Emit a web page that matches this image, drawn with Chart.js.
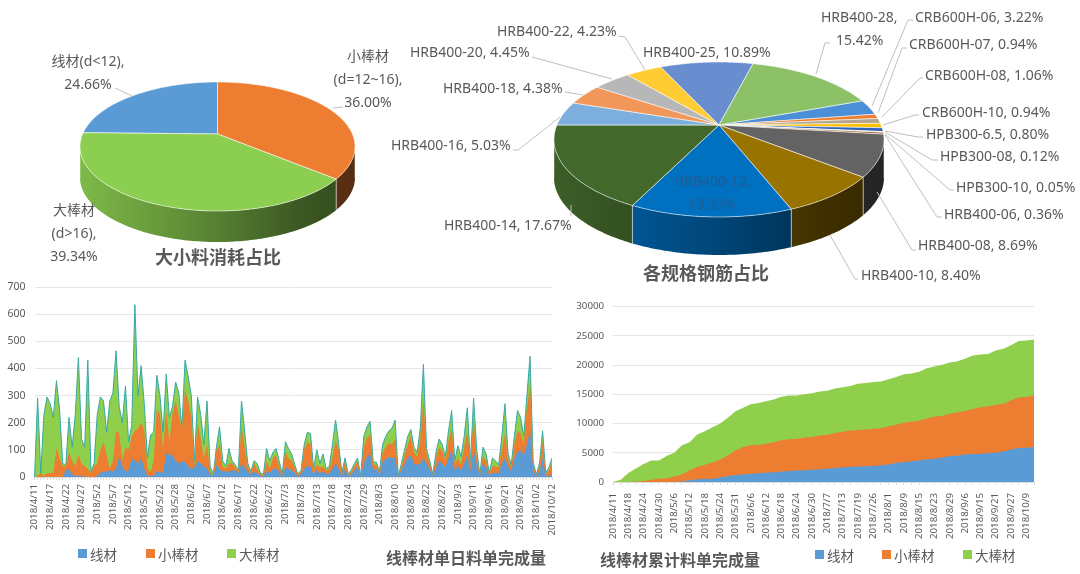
<!DOCTYPE html>
<html>
<head>
<meta charset="utf-8">
<script src="https://cdn.jsdelivr.net/npm/chart.js@4/dist/chart.umd.min.js"></script>
<style>
	body { margin: 0; width: 1080px; height: 574px; overflow: hidden; background: #fff; position: relative; font-family: "Noto Sans CJK SC", "Noto Sans", sans-serif; }
	canvas { position: absolute; filter: blur(0.35px); }
	.title { position: absolute; font-size: 16px; font-weight: 700; color: #595959; white-space: nowrap; line-height: 20px; filter: blur(0.35px); }
	.legend { position: absolute; font-size: 13.5px; color: #595959; white-space: nowrap; line-height: 18px; filter: blur(0.35px); }
	.legend i { position: absolute; width: 9px; height: 9px; top: 4px; }
</style>
</head>
<body>
<canvas id="sizePie" width="1080" height="290" style="left:0;top:0"></canvas>
<canvas id="specPie" width="1080" height="290" style="left:0;top:0"></canvas>
<canvas id="dailyArea" width="560" height="294" style="left:0;top:280px"></canvas>
<canvas id="cumArea" width="520" height="284" style="left:560px;top:290px"></canvas>
<script>
// 大小料
const sizeNames = ['线材', '小棒材', '大棒材'];
const sizeRanges = ['(d<12)', '(d=12~16)', '(d>16)'];
const sizeShares = [24.66, 36.00, 39.34];

// 各规格
const specNames = ['CRB600H-06', 'CRB600H-07', 'CRB600H-08', 'CRB600H-10', 'HPB300-6.5', 'HPB300-08', 'HPB300-10',
	'HRB400-06', 'HRB400-08', 'HRB400-10', 'HRB400-12', 'HRB400-14', 'HRB400-16', 'HRB400-18', 'HRB400-20',
	'HRB400-22', 'HRB400-25', 'HRB400-28'];
const specShares = [3.22, 0.94, 1.06, 0.94, 0.80, 0.12, 0.05, 0.36, 8.69, 8.40, 13.33, 17.67, 5.03, 4.38, 4.45, 4.23, 10.89, 15.42];

// 单日料单, one label every 5 points
const dailyTicks = ['2018/4/11', '2018/4/17', '2018/4/22', '2018/4/27', '2018/5/2', '2018/5/7', '2018/5/12', '2018/5/17',
	'2018/5/22', '2018/5/28', '2018/6/2', '2018/6/7', '2018/6/12', '2018/6/17', '2018/6/22', '2018/6/27', '2018/7/3',
	'2018/7/8', '2018/7/13', '2018/7/18', '2018/7/24', '2018/7/29', '2018/8/3', '2018/8/10', '2018/8/15', '2018/8/22',
	'2018/8/27', '2018/9/3', '2018/9/11', '2018/9/16', '2018/9/21', '2018/9/26', '2018/10/2', '2018/10/12'];
const dailyWire = [0,0,0,0,0,0,0,0,0,0,
	25,30,10,5,5,3,3,0,0,0,
	5,15,20,20,25,20,30,75,40,20,
	25,70,60,50,70,30,5,5,5,20,
	20,15,90,80,80,60,50,60,55,40,
	30,35,60,50,40,30,10,5,45,30,
	20,20,20,25,25,15,50,35,20,10,
	20,15,5,3,20,15,30,30,20,
	3,35,30,25,15,3,10,30,40,40,
	10,25,15,20,10,15,30,50,30,5,
	30,5,10,25,40,3,50,75,85,25,
	30,8,55,65,75,70,70,1,25,50,
	70,80,50,45,50,70,50,30,5,35,
	60,50,35,70,100,25,40,25,50,80,
	20,100,45,4,50,35,6,15,15,15,
	50,70,40,20,70,90,100,80,120,170,
	25,4,20,70,5,5,10];
const dailySmall = [0,5,15,5,15,15,15,105,70,40,
	15,60,50,35,75,47,37,30,15,40,
	45,85,110,60,5,40,140,85,20,90,
	75,80,110,130,130,140,25,15,55,230,
	210,85,150,50,150,220,180,110,265,240,
	190,5,140,90,30,90,10,0,55,90,
	20,10,30,25,10,5,140,75,20,5,
	30,15,5,2,40,15,40,50,20,
	3,60,40,35,20,4,10,70,90,80,
	15,20,20,20,15,15,40,85,70,5,
	25,4,10,15,20,1,60,70,70,20,
	15,7,35,45,50,50,70,1,15,30,
	50,70,40,30,90,220,35,20,3,35,
	50,45,25,60,80,25,30,20,60,90,
	25,110,30,3,25,25,5,25,25,20,
	50,90,25,15,50,80,60,40,130,170,
	20,3,20,60,6,20,40];
const dailyLarge = [0,285,0,225,280,255,205,250,180,10,
	5,130,50,190,360,90,70,400,5,10,
	180,195,150,85,250,250,295,100,140,225,
	30,40,465,120,210,100,40,135,105,125,
	70,65,140,90,30,70,80,10,110,90,
	80,20,95,90,50,160,20,5,10,65,
	20,10,55,10,10,5,90,60,10,5,
	10,20,5,5,45,30,20,25,20,
	4,35,35,25,10,3,5,20,35,40,
	5,55,15,45,5,10,50,75,20,5,
	15,3,5,10,10,1,40,40,50,10,
	10,5,30,40,45,60,70,1,10,20,
	30,25,20,15,40,125,20,10,2,20,
	30,25,15,40,65,10,45,30,40,85,
	10,80,25,3,35,25,4,30,20,10,
	50,110,20,10,30,75,60,30,50,105,
	10,3,10,40,4,10,20];

// 累计料单, read at every label and half way between labels
const cumTicks = ['2018/4/11', '2018/4/18', '2018/4/24', '2018/4/30', '2018/5/6', '2018/5/12', '2018/5/18', '2018/5/24',
	'2018/5/31', '2018/6/6', '2018/6/12', '2018/6/18', '2018/6/24', '2018/6/30', '2018/7/7', '2018/7/13', '2018/7/19',
	'2018/7/26', '2018/8/1', '2018/8/9', '2018/8/15', '2018/8/23', '2018/8/29', '2018/9/6', '2018/9/15', '2018/9/21',
	'2018/9/27', '2018/10/9'];
const cumWire = [0,0,0,0,0,0,0,0,0,100,300,450,500,570,750,1000,1200,1300,1400,1500,1600,1650,1800,1900,1950,2000,2100,2200,
	2250,2400,2500,2600,2650,2700,2750,2850,3000,3300,3400,3550,3700,3900,4000,4200,4450,4500,4700,4800,4850,4900,5000,5200,5550,5800,5850,6000];
const cumSmall = [0,0,0,50,170,400,570,650,950,1200,1700,2100,2450,2780,3050,3550,4200,4700,4900,4850,4950,5150,5350,5400,5400,5600,5600,5750,
	5850,6000,6100,6200,6250,6300,6350,6350,6550,6500,6750,6750,6800,6950,7150,7150,7250,7450,7450,7700,7950,8000,8200,8200,8400,8650,8700,8850];
const cumLarge = [0,400,1550,2250,2930,3300,3130,3800,4050,5000,4800,5600,5750,6000,6200,6450,6700,6700,7000,7150,7250,7300,7450,7500,7450,7400,7500,7550,
	7500,7600,7600,7650,7900,7950,8000,8000,8050,8150,8300,8250,8350,8600,8600,8700,8750,8700,8950,9150,9000,9000,9300,9400,9450,9700,9650,9550];

const seriesNames = ['线材', '小棒材', '大棒材'];

// colours
const sizeColors = ['#5b9bd5', '#ed7d31', '#8ccf50'];
const specColors = ['#4a8fd8', '#ed7d31', '#b5a58f', '#ffc000', '#2f62b8', '#70ad47', '#255e91', '#9e480e', '#636363',
	'#997300', '#0070c0', '#43682b', '#7cafdd', '#f1975a', '#b7b7b7', '#ffcd33', '#698ed0', '#8cc168'];
const textColor = '#595959';
const leaderColor = '#bfbfbf';

const pct = v => v.toFixed(2) + '%';

// label layout on the page: x, y of the first line, align, leader points
const sizeLayout = [
	{ x: 88, y: 62, align: 'center', step: 23, lines: [`${sizeNames[0]}${sizeRanges[0]},`, pct(sizeShares[0])], leader: [[115, 88], [132, 96]] },
	{ x: 368, y: 57, align: 'center', step: 23, lines: [sizeNames[1], `${sizeRanges[1]},`, pct(sizeShares[1])], leader: [[343, 107], [333, 108]] },
	{ x: 74, y: 211, align: 'center', step: 23, lines: [sizeNames[2], `${sizeRanges[2]},`, pct(sizeShares[2])] }
];
const specLine = i => `${specNames[i]}, ${pct(specShares[i])}`;
const specLayout = [
	{ x: 915, y: 18, lines: [specLine(0)], leader: [[913, 20], [908, 20], [872, 106]] },
	{ x: 909, y: 45, lines: [specLine(1)], leader: [[907, 48], [902, 48], [878, 113]] },
	{ x: 925, y: 76, lines: [specLine(2)], leader: [[923, 78], [920, 78], [882, 117]] },
	{ x: 922, y: 113, lines: [specLine(3)], leader: [[919, 115], [915, 115], [883, 125]] },
	{ x: 926, y: 135, lines: [specLine(4)], leader: [[923, 137], [918, 137], [885, 131]] },
	{ x: 940, y: 157, lines: [specLine(5)], leader: [[938, 160], [932, 160], [885, 132]] },
	{ x: 956, y: 188, lines: [specLine(6)], leader: [[954, 190], [950, 190], [885, 134]] },
	{ x: 944, y: 215, lines: [specLine(7)], leader: [[942, 217], [937, 217], [885, 135]] },
	{ x: 918, y: 246, lines: [specLine(8)], leader: [[916, 250], [912, 250], [877, 192]] },
	{ x: 861, y: 276, lines: [specLine(9)], leader: [[858, 279], [855, 279], [830, 235]] },
	{ x: 712, y: 182, align: 'center', step: 23, color: '#1f5c94', lines: [`${specNames[10]},`, pct(specShares[10])] },
	{ x: 444, y: 226, lines: [specLine(11)], leader: [[571, 205], [571, 216]] },
	{ x: 391, y: 146, lines: [specLine(12)], leader: [[513, 150], [518, 150], [560, 117]] },
	{ x: 443, y: 89, lines: [specLine(13)], leader: [[565, 92], [583, 95]] },
	{ x: 410, y: 53, lines: [specLine(14)], leader: [[532, 57], [612, 79]] },
	{ x: 497, y: 32, lines: [specLine(15)], leader: [[618, 36], [625, 37], [645, 70]] },
	{ x: 643, y: 53, lines: [specLine(16)] },
	{ x: 821, y: 18, step: 23, lines: [`${specNames[17]},`], leader: [[830, 43], [825, 43], [816, 74]] },
	{ x: 836, y: 41, lines: [pct(specShares[17])] }
];

function shade(hex, k) {
	const n = parseInt(hex.slice(1), 16);
	return `rgb(${Math.round((n >> 16) * k)},${Math.round(((n >> 8) & 255) * k)},${Math.round((n & 255) * k)})`;
}

// draws the pie's arc elements tilted and with a side wall; apex is where the slices meet,
// above the middle of the ellipse as in a perspective view
const tiltedPie = {
	id: 'tiltedPie',
	beforeDatasetsDraw(chart, args, o) {
		const { ctx, chartArea: a } = chart;
		const cx = (a.left + a.right) / 2, cy = (a.top + a.bottom) / 2;
		const rx = a.width / 2, ry = a.height / 2;
		const d = o.apexShift;
		const proj = (t, r) => {
			const ux = r * Math.sin(t), uy = r * Math.cos(t), den = 1 + d * uy;
			return { x: cx + rx * ux * Math.sqrt(1 - d * d) / den, y: cy - ry * (uy + d) / den };
		};
		const arcs = chart.getDatasetMeta(0).data;
		const angles = el => [el.startAngle + Math.PI / 2, el.endAngle + Math.PI / 2];
		ctx.save();
		// side wall first
		arcs.forEach(el => {
			const [t0, t1] = angles(el);
			const front = [];
			const n = Math.max(2, Math.ceil((t1 - t0) * 60));
			for (let i = 0; i <= n; i++) {
				const p = proj(t0 + (t1 - t0) * i / n, 1);
				if (p.y >= cy) front.push(p);
			}
			if (front.length < 2) return;
			const g = ctx.createLinearGradient(a.left, 0, a.right, 0);
			const c = el.options.backgroundColor;
			g.addColorStop(0, shade(c, 0.9));
			g.addColorStop(0.5, shade(c, 0.62));
			g.addColorStop(0.8, shade(c, 0.42));
			g.addColorStop(1, shade(c, 0.36));
			ctx.beginPath();
			front.forEach((p, i) => i ? ctx.lineTo(p.x, p.y) : ctx.moveTo(p.x, p.y));
			front.slice().reverse().forEach(p => ctx.lineTo(p.x, p.y + o.depth));
			ctx.closePath();
			ctx.fillStyle = g;
			ctx.fill();
			ctx.strokeStyle = 'rgba(255,255,255,0.45)';
			ctx.lineWidth = 1;
			[front[0], front[front.length - 1]].forEach(p => {
				ctx.beginPath();
				ctx.moveTo(p.x, p.y);
				ctx.lineTo(p.x, p.y + o.depth);
				ctx.stroke();
			});
		});
		// top face
		arcs.forEach(el => {
			const [t0, t1] = angles(el);
			const apex = proj(0, 0);
			const n = Math.max(2, Math.ceil((t1 - t0) * 60));
			ctx.beginPath();
			ctx.moveTo(apex.x, apex.y);
			for (let i = 0; i <= n; i++) {
				const p = proj(t0 + (t1 - t0) * i / n, 1);
				ctx.lineTo(p.x, p.y);
			}
			ctx.closePath();
			ctx.fillStyle = el.options.backgroundColor;
			ctx.fill();
			ctx.strokeStyle = 'rgba(255,255,255,0.55)';
			ctx.lineWidth = 1;
			ctx.stroke();
		});
		ctx.restore();
		return false;
	},
	afterDraw(chart, args, o) {
		const { ctx } = chart;
		ctx.save();
		ctx.font = '14px "Noto Sans", "Noto Sans CJK SC", sans-serif';
		ctx.textBaseline = 'middle';
		o.layout.forEach(l => {
			ctx.fillStyle = l.color || textColor;
			ctx.textAlign = l.align || 'left';
			l.lines.forEach((t, i) => ctx.fillText(t, l.x, l.y + i * (l.step || 0)));
			if (!l.leader) return;
			ctx.beginPath();
			l.leader.forEach((p, i) => i ? ctx.lineTo(p[0], p[1]) : ctx.moveTo(p[0], p[1]));
			ctx.strokeStyle = leaderColor;
			ctx.lineWidth = 1;
			ctx.stroke();
		});
		ctx.restore();
	}
};

function pieChart(id, names, shares, colors, rotation, padding, opts) {
	return new Chart(document.getElementById(id), {
		type: 'pie',
		data: { labels: names, datasets: [{ data: shares, backgroundColor: colors, borderWidth: 0 }] },
		options: {
			responsive: false,
			animation: false,
			rotation: rotation,
			layout: { padding: padding },
			plugins: { legend: { display: false }, tooltip: { enabled: false }, tiltedPie: opts }
		},
		plugins: [tiltedPie]
	});
}

pieChart('sizePie', sizeNames, sizeShares, sizeColors, -88.776,
	{ left: 80, right: 725, top: 82, bottom: 79 }, { apexShift: 0.194, depth: 31, layout: sizeLayout });
pieChart('specPie', specNames, specShares, specColors, 69.9,
	{ left: 554, right: 196, top: 62, bottom: 73 }, { apexShift: 0.187, depth: 38, layout: specLayout });

function areaChart(id, categories, series, cfg) {
	const colors = ['#5b9bd5', '#ed7d31', '#8fcf4c'];
	return new Chart(document.getElementById(id), {
		type: 'line',
		data: {
			labels: categories,
			datasets: series.map((values, i) => ({
				label: seriesNames[i],
				data: values,
				backgroundColor: colors[i],
				borderColor: i === 2 && cfg.edge ? cfg.edge : colors[i],
				borderWidth: i === 2 && cfg.edge ? 1 : 0,
				fill: 'origin',
				pointRadius: 0,
				tension: 0
			}))
		},
		options: {
			responsive: false,
			animation: false,
			layout: { padding: cfg.padding },
			plugins: { legend: { display: false }, tooltip: { enabled: false } },
			scales: {
				x: {
					grid: { drawOnChartArea: false, color: '#dcdcdc', tickLength: 3 },
					border: { color: '#dcdcdc' },
					ticks: { autoSkip: false, maxRotation: 90, minRotation: 90, color: textColor, padding: cfg.tickPad, font: { size: 9.7, family: '"Noto Sans", sans-serif' } },
					afterFit: s => { s.height = cfg.xHeight; s.paddingLeft = 0; s.paddingRight = 0; }
				},
				y: {
					stacked: true,
					min: 0,
					max: cfg.max,
					grid: { color: '#e6e6e6', drawTicks: false },
					border: { display: false },
					ticks: { stepSize: cfg.step, color: textColor, padding: 9, font: { size: cfg.yFont, family: '"Noto Sans", sans-serif' }, callback: v => String(v) },
					afterFit: s => { s.width = cfg.yWidth; s.paddingTop = 0; s.paddingBottom = 0; }
				}
			}
		}
	});
}

// blank category between the labels that are shown
const dailyCategories = dailyWire.map((v, i) => (i % 5 === 0 ? dailyTicks[i / 5] : ''));
const cumCategories = cumWire.map((v, i) => (i % 2 === 0 ? cumTicks[i / 2] : ''));

areaChart('dailyArea', dailyCategories, [dailyWire, dailySmall, dailyLarge], {
	max: 700, step: 100, edge: '#38a9a4', yWidth: 34.5, xHeight: 97, yFont: 10.5, tickPad: 4,
	padding: { left: 0, right: 8, top: 7, bottom: 0 }
});
areaChart('cumArea', cumCategories, [cumWire, cumSmall, cumLarge], {
	max: 30000, step: 5000, yWidth: 53, xHeight: 92, yFont: 9.7, tickPad: 8,
	padding: { left: 0, right: 46, top: 16.7, bottom: 0 }
});

// titles and legends
function addText(cls, text, left, centerY, size) {
	const el = document.createElement('div');
	el.className = cls;
	el.textContent = text;
	el.style.left = left + 'px';
	el.style.top = (centerY - 10) + 'px';
	if (size) el.style.fontSize = size + 'px';
	document.body.appendChild(el);
	return el;
}
addText('title', '大小料消耗占比', 155, 256, 18);
addText('title', '各规格钢筋占比', 643, 272, 18);
addText('title', '线棒材单日料单完成量', 386, 557);
addText('title', '线棒材累计料单完成量', 600, 559);

const swatchColors = ['#5b9bd5', '#ed7d31', '#8fcf4c'];
function addLegend(lefts, centerY) {
	seriesNames.forEach((name, i) => {
		const el = addText('legend', name, lefts[i] + 12, centerY + 1);
		const box = document.createElement('i');
		box.style.left = '-12px';
		box.style.background = swatchColors[i];
		el.appendChild(box);
	});
}
addLegend([78, 146, 227], 554);
addLegend([815, 882, 963], 555);
</script>
</body>
</html>
